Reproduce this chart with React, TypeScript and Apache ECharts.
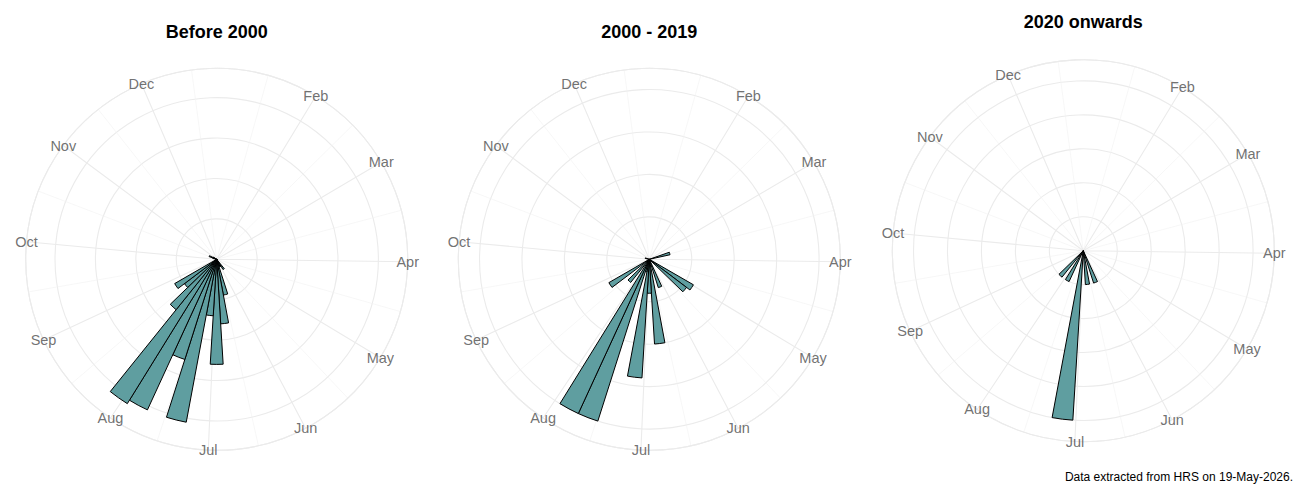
import React, { useEffect, useRef } from "react";
import * as echarts from "echarts";

// ---- data ----
const monthLabels = ["Jan", "Feb", "Mar", "Apr", "May", "Jun", "Jul", "Aug", "Sep", "Oct", "Nov", "Dec"];
const monthStartDay = [1, 32, 60, 91, 121, 152, 182, 213, 244, 274, 305, 335];
const nextYearStartDay = 366;
const weekMin = 0.5;
const weekMax = 51.5;

const panelTitles = ["Before 2000", "2000 - 2019", "2020 onwards"];

const before2000Weeks = [21, 22, 23, 24, 25, 26, 27, 28, 29, 30, 31, 32, 33, 34, 41, 42, 43];
const before2000Counts = [3, 2, 2, 9, 16, 26, 14, 41, 26, 41, 42, 16, 10, 12, 1, 2, 1];

const from2000Weeks = [11, 18, 19, 23, 25, 26, 27, 28, 29, 30, 32, 34, 41];
const from2000Counts = [5, 12, 11, 7, 20, 8, 28, 3, 40, 40, 7, 11, 1];

const from2020Weeks = [23, 25, 27, 30, 32];
const from2020Counts = [1, 1, 5, 1, 1];

const radialBreak = [10, 10, 1];
const caption = "Data extracted from HRS on 19-May-2026.";

// ---- layout / style ----
const centers = [
  [216.7, 259.3],
  [649.3, 259.3],
  [1083.3, 250.7],
];
const outerRadius = 191;
const titleTops = [23, 23, 13];
const gridColor = "#EBEBEB";
const barFill = "#5F9EA0";
const fontFamily = "'Liberation Sans', Arial, sans-serif";

const dayToWeek = (d: number) => (d + 2.5) / 7;

export default function App() {
  const ref = useRef<HTMLDivElement>(null);

  useEffect(() => {
    if (!ref.current) return;
    const chart = echarts.init(ref.current, undefined, { renderer: "svg" });

    const majorW = monthStartDay.map(dayToWeek);
    const allStarts = [...majorW, dayToWeek(nextYearStartDay)];
    const minorW = allStarts.slice(1).map((w, i) => (w + allStarts[i]) / 2);
    const inside = (w: number) => w > weekMin + 1e-6 && w < weekMax - 1e-6;
    const labelItems = monthLabels
      .map((m, i) => ({ m, w: majorW[i] }))
      .filter((o) => inside(o.w));

    const panels = [
      { weeks: before2000Weeks, counts: before2000Counts },
      { weeks: from2000Weeks, counts: from2000Counts },
      { weeks: from2020Weeks, counts: from2020Counts },
    ];

    const polar: any[] = [];
    const angleAxis: any[] = [];
    const radiusAxis: any[] = [];
    const series: any[] = [];
    const titles: any[] = [];

    panels.forEach((p, i) => {
      const maxCount = Math.max(...p.counts);
      const rMax = (maxCount * 0.45) / 0.4;
      const c = centers[i];
      // minor polar
      polar.push({ center: [c[0], c[1]], radius: [0, outerRadius] });
      angleAxis.push({
        polarIndex: 2 * i,
        type: "value",
        min: weekMin,
        max: weekMax,
        startAngle: 90,
        clockwise: true,
        axisLine: { show: false },
        axisTick: { show: false, customValues: minorW.filter(inside) },
        axisLabel: { show: false },
        splitLine: { show: true, lineStyle: { color: "#F1F1F1", width: 0.6 } },
      });
      radiusAxis.push({
        polarIndex: 2 * i,
        type: "value",
        min: 0,
        max: rMax,
        show: false,
      });
      // major polar
      polar.push({ center: [c[0], c[1]], radius: [0, outerRadius] });
      angleAxis.push({
        polarIndex: 2 * i + 1,
        type: "value",
        min: weekMin,
        max: weekMax,
        startAngle: 90,
        clockwise: true,
        axisLine: { show: true, lineStyle: { color: gridColor, width: 1.1 } },
        axisTick: { show: false, customValues: majorW.filter(inside) },
        axisLabel: { show: false },
        splitLine: { show: true, lineStyle: { color: gridColor, width: 1.1 } },
      });
      radiusAxis.push({
        polarIndex: 2 * i + 1,
        type: "value",
        min: 0,
        max: rMax,
        interval: radialBreak[i],
        axisLine: { show: false },
        axisTick: { show: false },
        axisLabel: { show: false },
        splitLine: { show: true, lineStyle: { color: gridColor, width: 1.1 } },
      });

      series.push({
        type: "custom",
        coordinateSystem: "polar",
        polarIndex: 2 * i + 1,
        data: p.weeks.map((w, k) => [p.counts[k], w]),
        renderItem: (params: any, api: any) => {
          const v = api.value(0);
          const w = api.value(1);
          const cs = params.coordSys;
          const cx = cs.cx;
          const cy = cs.cy;
          const p1 = api.coord([v, w - 0.5]);
          const p2 = api.coord([v, w + 0.5]);
          const a1 = Math.atan2(p1[1] - cy, p1[0] - cx);
          let a2 = Math.atan2(p2[1] - cy, p2[0] - cx);
          while (a2 < a1) a2 += 2 * Math.PI;
          const r = Math.hypot(p1[0] - cx, p1[1] - cy);
          return {
            type: "sector",
            shape: { cx, cy, r0: 0, r, startAngle: a1, endAngle: a2, clockwise: true },
            style: { fill: barFill, stroke: "#000000", lineWidth: 1 },
          };
        },
        z: 3,
      });

      series.push({
        type: "scatter",
        coordinateSystem: "polar",
        polarIndex: 2 * i + 1,
        symbolSize: 1,
        itemStyle: { color: "rgba(0,0,0,0)" },
        data: labelItems.map((o) => ({ name: o.m, value: [rMax, o.w] })),
        label: {
          show: true,
          position: "inside",
          formatter: "{b}",
          color: "#4D4D4D",
          fontSize: 14.5,
          fontFamily,
        },
        z: 4,
      });

      titles.push({
        text: panelTitles[i],
        left: c[0],
        top: titleTops[i],
        padding: 0,
        textAlign: "center",
        textStyle: { fontSize: 18, fontWeight: "bold", color: "#000", fontFamily },
      });
    });

    titles.push({
      text: caption,
      right: 7,
      top: 471,
      padding: 0,
      textStyle: { fontSize: 12, fontWeight: "normal", color: "#000", fontFamily },
    });

    chart.setOption({
      animation: false,
      backgroundColor: "#FFFFFF",
      title: titles,
      polar,
      angleAxis,
      radiusAxis,
      series,
    });

    return () => chart.dispose();
  }, []);

  return (
    <div
      ref={ref}
      style={{ position: "fixed", left: 0, top: 0, width: 1300, height: 500 }}
    />
  );
}
